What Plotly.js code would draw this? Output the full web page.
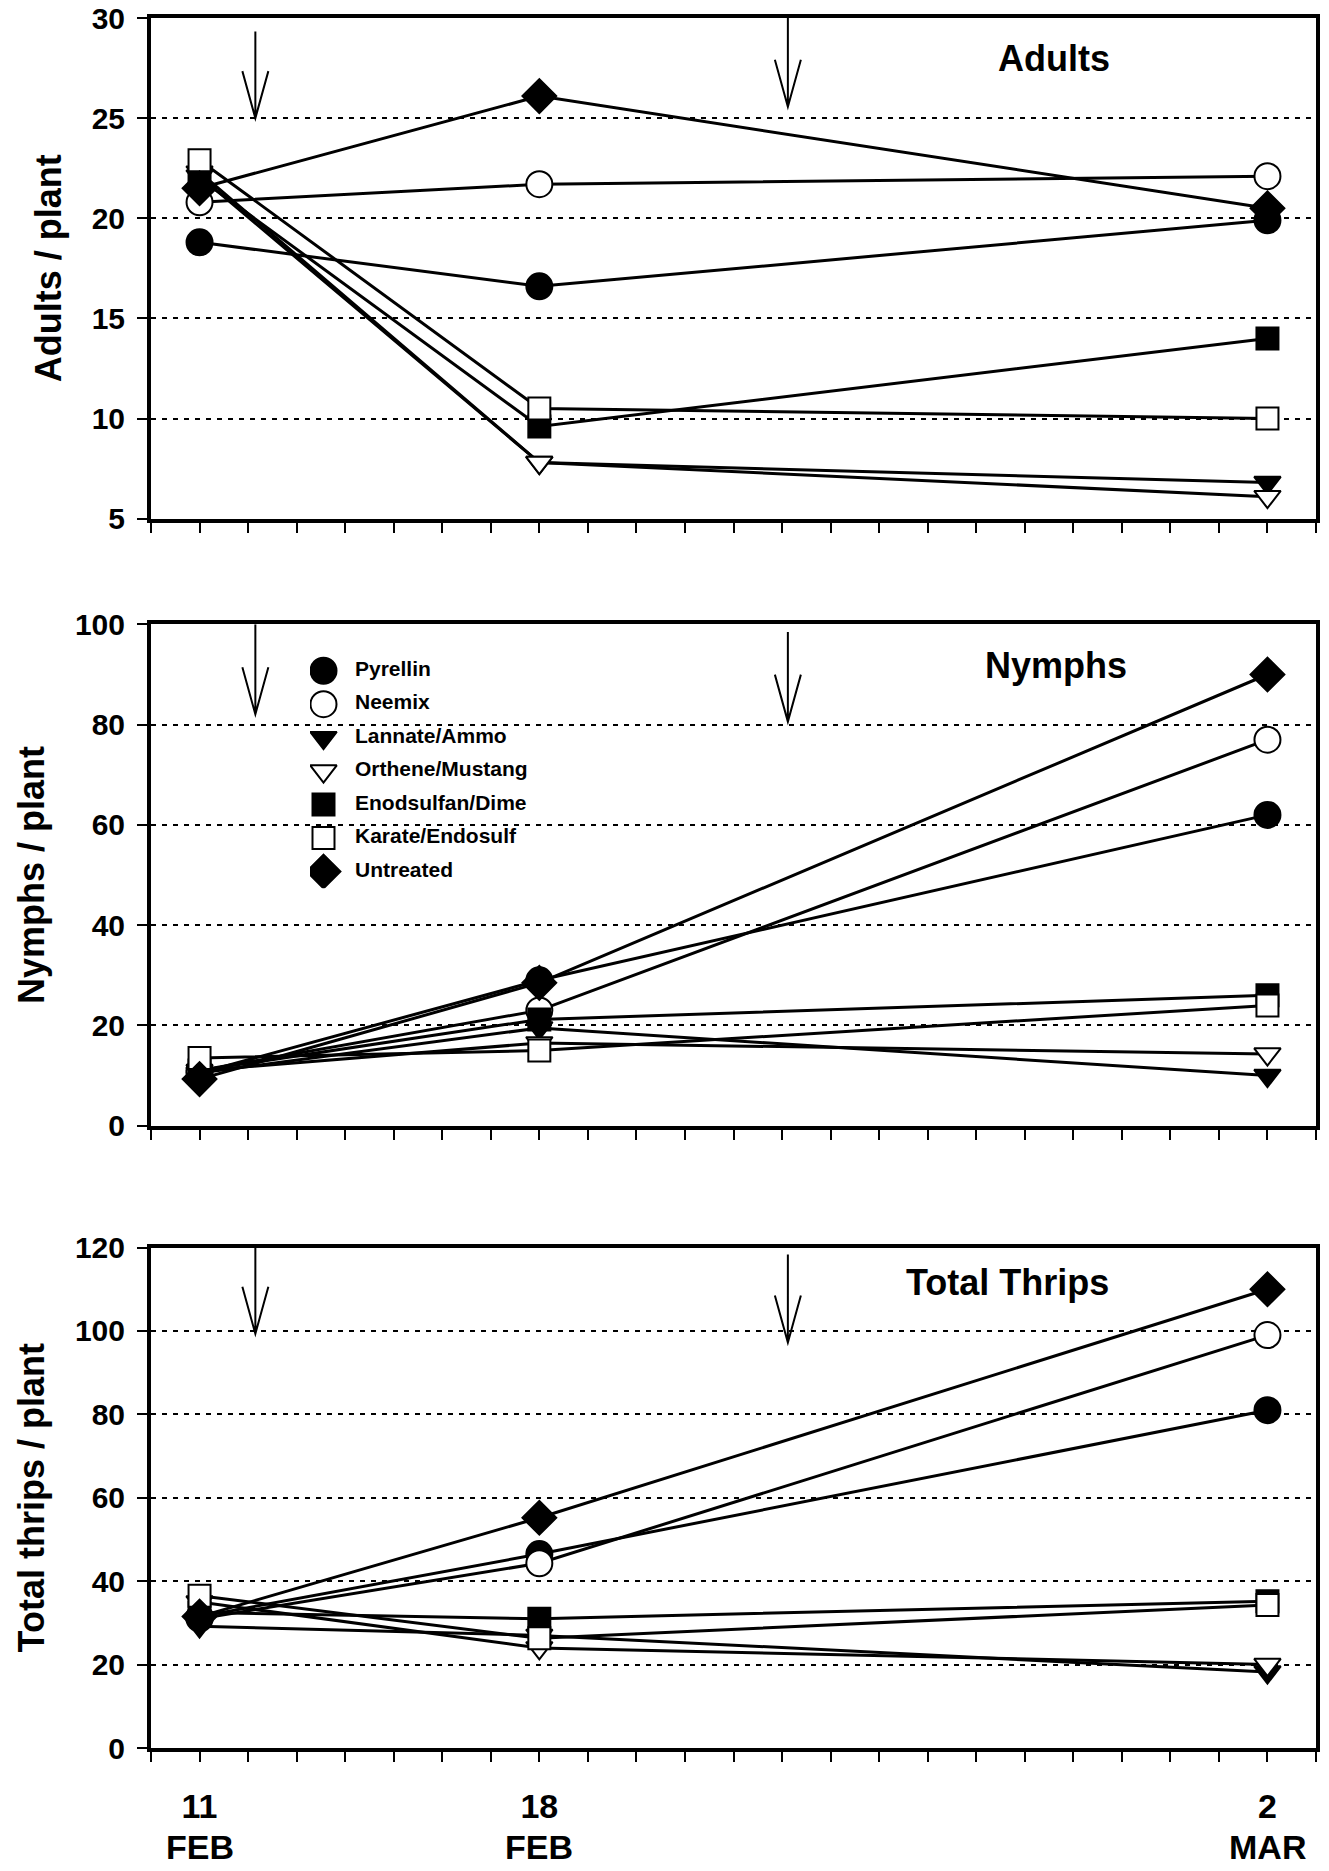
<!DOCTYPE html>
<html><head><meta charset="utf-8">
<script src="https://cdn.plot.ly/plotly-3.0.1.min.js"></script>
<style>html,body{margin:0;padding:0;background:#fff;}#chart{width:1329px;height:1871px;}</style>
</head><body><div id="chart"></div>
<script>
// ---------- data ----------
const treatments = ['Pyrellin','Neemix','Lannate/Ammo','Orthene/Mustang','Enodsulfan/Dime','Karate/Endosulf','Untreated'];
const sampleDays = [1, 8, 23];                       // sampling dates on the day axis
const dayLabels = ['11', '18', '2'];
const monthLabels = ['FEB', 'FEB', 'MAR'];
const sprayDays = [2.15, 13.12];                     // insecticide applications (arrows)

const adultsPerPlant = [
  [18.8, 16.6, 19.9],
  [20.8, 21.7, 22.1],
  [22.3, 7.8, 6.8],
  [22.1, 7.8, 6.1],
  [22.0, 9.6, 14.0],
  [22.9, 10.5, 10.0],
  [21.5, 26.1, 20.5]
];
const nymphsPerPlant = [
  [10.5, 29.0, 62.0],
  [11.0, 23.0, 77.0],
  [10.5, 19.5, 10.0],
  [11.0, 16.5, 14.3],
  [11.0, 21.2, 26.0],
  [13.5, 15.0, 24.0],
  [9.3, 28.5, 90.0]
];
const totalPerPlant = [
  [31.5, 46.5, 81.0],
  [31.0, 44.3, 99.0],
  [29.2, 27.0, 18.2],
  [35.0, 24.0, 20.0],
  [32.5, 31.0, 35.2],
  [36.5, 26.3, 34.3],
  [31.5, 55.2, 110.0]
];
const panelNames = ['Adults', 'Nymphs', 'Total Thrips'];
const yTitles = ['Adults / plant', 'Nymphs / plant', 'Total thrips / plant'];

// ---------- styles / layout ----------
const FONT = 'Liberation Sans, Arial, Helvetica, sans-serif';
const symbols = ['circle','circle','triangle-down','triangle-down','square','square','diamond'];
const fills   = ['#000000','#ffffff','#000000','#ffffff','#000000','#ffffff','#000000'];
const sizes   = [26, 26, 23, 23, 22, 22, 26];

const W = 1329, H = 1871, ML = 151, MR = 13, MT = 18, MB = 123;
const plotH = H - MT - MB, plotW = W - ML - MR;
const xRange = [0, 24];
const panelCfg = [
  {vals: adultsPerPlant, range: [5, 30], dtick: 5, domain: [0.7106, 1.0],
   labelPos: [18.6, 28.0], arrowTop: [29.33, 30], arrowTip: [25.0, 25.57]},
  {vals: nymphsPerPlant, range: [0, 100], dtick: 20, domain: [0.3597, 0.6495],
   labelPos: [18.65, 91.7], arrowTop: [100, 98.5], arrowTip: [82.05, 80.6]},
  {vals: totalPerPlant, range: [0, 120], dtick: 20, domain: [0.0, 0.2893],
   labelPos: [17.65, 111.5], arrowTop: [120, 118.3], arrowTip: [99.3, 97.2]}
];

const traces = [];
const layout = {
  width: W, height: H,
  margin: {l: ML, r: MR, t: MT, b: MB, pad: 0},
  paper_bgcolor: 'white', plot_bgcolor: 'rgba(0,0,0,0)',
  showlegend: false,
  font: {family: FONT, color: 'black', weight: 700},
  shapes: [], annotations: []
};

const pxPerX = plotW / (xRange[1] - xRange[0]);
const xTickFont = {family: FONT, size: 34, color: 'black', weight: 700};

panelCfg.forEach((p, i) => {
  const n = i + 1;
  const xa = 'x' + (n === 1 ? '' : n), ya = 'y' + (n === 1 ? '' : n);
  const xKey = 'xaxis' + (n === 1 ? '' : n), yKey = 'yaxis' + (n === 1 ? '' : n);
  treatments.forEach((name, k) => {
    traces.push({
      type: 'scatter', mode: 'lines+markers', name: name,
      x: sampleDays, y: p.vals[k], xaxis: xa, yaxis: ya,
      line: {color: 'black', width: 3},
      marker: {symbol: symbols[k], size: sizes[k], color: fills[k], opacity: 1,
               line: {color: 'black', width: 2}},
      cliponaxis: false, hoverinfo: 'skip'
    });
  });
  layout[xKey] = {
    domain: [0, 1], range: xRange, anchor: ya,
    showline: true, linewidth: 4, linecolor: 'black', mirror: true,
    tickmode: 'array', tickvals: sampleDays, ticktext: dayLabels,
    showticklabels: n === 3, ticks: 'outside', ticklen: 10, tickwidth: 2, tickcolor: 'black',
    ticklabelstandoff: 15,
    minor: {tick0: 0, dtick: 1, ticks: 'outside', ticklen: 10, tickwidth: 2, tickcolor: 'black', showgrid: false},
    showgrid: false, zeroline: false, fixedrange: true,
    tickfont: xTickFont
  };
  layout[yKey] = {
    domain: p.domain, range: p.range, anchor: xa, dtick: p.dtick, tick0: 0,
    showline: true, linewidth: 4, linecolor: 'black', mirror: true,
    ticks: 'outside', ticklen: 10, tickwidth: 2, tickcolor: 'black',
    ticklabelstandoff: 6,
    showgrid: true, gridcolor: 'black', gridwidth: 2, griddash: '5px,6px',
    zeroline: false, fixedrange: true,
    tickfont: {family: FONT, size: 30, color: 'black', weight: 700},
    title: {text: yTitles[i], standoff: 20, font: {family: FONT, size: 36, color: 'black', weight: 700}}
  };
  // panel label
  layout.annotations.push({
    xref: xa, yref: ya, x: p.labelPos[0], y: p.labelPos[1], text: panelNames[i],
    showarrow: false, xanchor: 'center', yanchor: 'middle',
    font: {family: FONT, size: 36, color: 'black', weight: 700}
  });
  // spray arrows (open V heads)
  const pxPerY = (p.domain[1] - p.domain[0]) * plotH / (p.range[1] - p.range[0]);
  const dx = 13 / pxPerX, dy = 47 / pxPerY;
  sprayDays.forEach((d, j) => {
    const top = p.arrowTop[j], tip = p.arrowTip[j];
    layout.shapes.push({
      type: 'path', xref: xa, yref: ya, layer: 'above',
      path: `M${d},${top} L${d},${tip} M${d - dx},${tip + dy} L${d},${tip} L${d + dx},${tip + dy}`,
      line: {color: 'black', width: 2}
    });
  });
});

// second row of the date labels (month), placed under the day numbers of the bottom axis
const monthRowY = -99 / plotH;   // 99 px below the bottom axis line
sampleDays.forEach((d, k) => {
  layout.annotations.push({
    xref: 'x3', yref: 'paper', x: d, y: monthRowY, text: monthLabels[k],
    showarrow: false, xanchor: 'center', yanchor: 'middle', font: xTickFont
  });
});

// legend drawn in its own invisible axes inside the Nymphs panel
layout.xaxis4 = {domain: [(310 - ML) / plotW, (560 - ML) / plotW], range: [310, 560], anchor: 'y4', visible: false, fixedrange: true};
layout.yaxis4 = {domain: [(H - MB - 888.2) / plotH, (H - MB - 654) / plotH], range: [6.5, -0.5], anchor: 'x4', visible: false, fixedrange: true};
treatments.forEach((name, k) => {
  traces.push({
    type: 'scatter', mode: 'markers', xaxis: 'x4', yaxis: 'y4', name: name,
    x: [323.5], y: [k], hoverinfo: 'skip',
    marker: {symbol: symbols[k], size: sizes[k], color: fills[k], opacity: 1,
             line: {color: 'black', width: 2}}
  });
});
traces.push({
  type: 'scatter', mode: 'text', xaxis: 'x4', yaxis: 'y4',
  x: treatments.map(() => 355), y: treatments.map((_, k) => k), text: treatments, hoverinfo: 'skip',
  textposition: 'middle right',
  textfont: {family: FONT, size: 21, color: 'black', weight: 700}
});

Plotly.newPlot('chart', traces, layout, {displayModeBar: false, staticPlot: true});
</script>
</body></html>
